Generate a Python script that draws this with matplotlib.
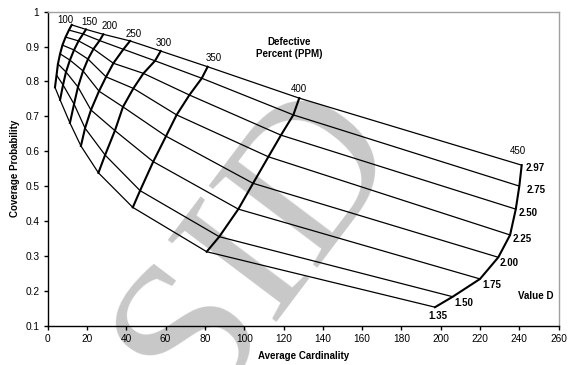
import numpy as np
import matplotlib.pyplot as plt

plt.rcParams['font.family'] = ['Liberation Sans', 'DejaVu Sans']

# defective percent (PPM) curves and value-D curves
defective = [100, 150, 200, 250, 300, 350, 400, 450]
d_values = ['2.97', '2.75', '2.50', '2.25', '2.00', '1.75', '1.50', '1.35']

# average cardinality, one row per defective value, columns follow d_values
cardinality = np.array([
    [12.2, 10.8, 9.1, 7.5, 6.3, 5.2, 4.5, 3.7],
    [19.5, 18.0, 15.7, 13.4, 11.3, 9.3, 7.8, 6.3],
    [28.3, 26.4, 23.3, 20.5, 18.0, 15.4, 13.4, 11.3],
    [41.9, 38.5, 33.4, 29.7, 26.1, 22.0, 19.0, 16.9],
    [57.5, 54.6, 48.7, 43.6, 38.3, 34.2, 29.2, 25.8],
    [81.4, 78.4, 72.1, 65.6, 60.2, 53.7, 47.0, 43.3],
    [128.0, 125.0, 118.7, 112.3, 104.5, 97.0, 87.3, 80.9],
    [241.2, 240.0, 238.2, 235.3, 229.3, 220.0, 206.1, 197.1],
])

# coverage probability, same layout
probability = np.array([
    [0.962, 0.947, 0.927, 0.904, 0.879, 0.850, 0.818, 0.783],
    [0.949, 0.936, 0.916, 0.890, 0.861, 0.827, 0.790, 0.747],
    [0.935, 0.917, 0.893, 0.864, 0.830, 0.784, 0.735, 0.681],
    [0.916, 0.892, 0.852, 0.813, 0.772, 0.718, 0.666, 0.615],
    [0.887, 0.859, 0.823, 0.780, 0.727, 0.659, 0.589, 0.538],
    [0.842, 0.809, 0.761, 0.704, 0.643, 0.570, 0.487, 0.439],
    [0.752, 0.704, 0.646, 0.584, 0.508, 0.434, 0.355, 0.312],
    [0.560, 0.500, 0.434, 0.360, 0.296, 0.234, 0.183, 0.153],
])

fig = plt.figure(figsize=(5.68, 3.65), dpi=100)
ax = fig.add_axes([0.084, 0.1077, 0.8995, 0.8605])
ax.set_facecolor('none')

# watermark behind the axes
fig.text(0.455, 0.33, 'SID', family='Liberation Serif', fontsize=150,
         color='#c8c8c8', rotation=53, ha='center', va='center', zorder=-1)

# value D curves (thin)
for j in range(len(d_values)):
    ax.plot(cardinality[:, j], probability[:, j], color='black', lw=0.9)

# defective percent curves (thick)
for i in range(len(defective)):
    ax.plot(cardinality[i], probability[i], color='black', lw=1.5)

# defective labels above the top curve
top_offsets = [(-6, 5), (3, 7), (6, 8), (4, 7), (3, 8), (6, 9), (0, 9), (-4, 14)]
for i, lab in enumerate(defective):
    ax.annotate(str(lab), (cardinality[i, 0], probability[i, 0]),
                xytext=top_offsets[i], textcoords='offset pixels',
                ha='center', va='center', fontsize=7)

# value D labels along the 450 curve
d_offsets = [(4, -3), (7, -4), (3, -4), (3, -4), (1, -6), (2, -6), (2, -6)]
for j, lab in enumerate(d_values[:-1]):
    ax.annotate(lab, (cardinality[-1, j], probability[-1, j]),
                xytext=d_offsets[j], textcoords='offset pixels',
                ha='left', va='center', fontsize=7, fontweight='bold')
ax.annotate(d_values[-1], (cardinality[-1, -1], probability[-1, -1]),
            xytext=(3, -9), textcoords='offset pixels',
            ha='center', va='center', fontsize=7, fontweight='bold')

ax.text(248.5, 0.185, 'Value D', ha='center', va='center', fontsize=7, fontweight='bold')
ax.text(122.8, 0.896, 'Defective\nPercent (PPM)', ha='center', va='center',
        fontsize=7, fontweight='bold', linespacing=1.3)

ax.set_xlim(0, 260)
ax.set_ylim(0.1, 1.0)
ax.set_xticks(np.arange(0, 261, 20))
ax.set_yticks(np.round(np.arange(0.1, 1.01, 0.1), 1))
ax.set_yticklabels(['0.1', '0.2', '0.3', '0.4', '0.5', '0.6', '0.7', '0.8', '0.9', '1'])
ax.tick_params(direction='out', length=3, width=1, labelsize=7.3, pad=3)
ax.set_xlabel('Average Cardinality', fontsize=7, fontweight='bold', labelpad=5)
ax.set_ylabel('Coverage Probability', fontsize=7, fontweight='bold', labelpad=4)

for side in ['top', 'right']:
    ax.spines[side].set_color('#a0a0a0')
    ax.spines[side].set_linewidth(1)
for side in ['left', 'bottom']:
    ax.spines[side].set_linewidth(1)

fig.savefig('out.png', dpi=100)
